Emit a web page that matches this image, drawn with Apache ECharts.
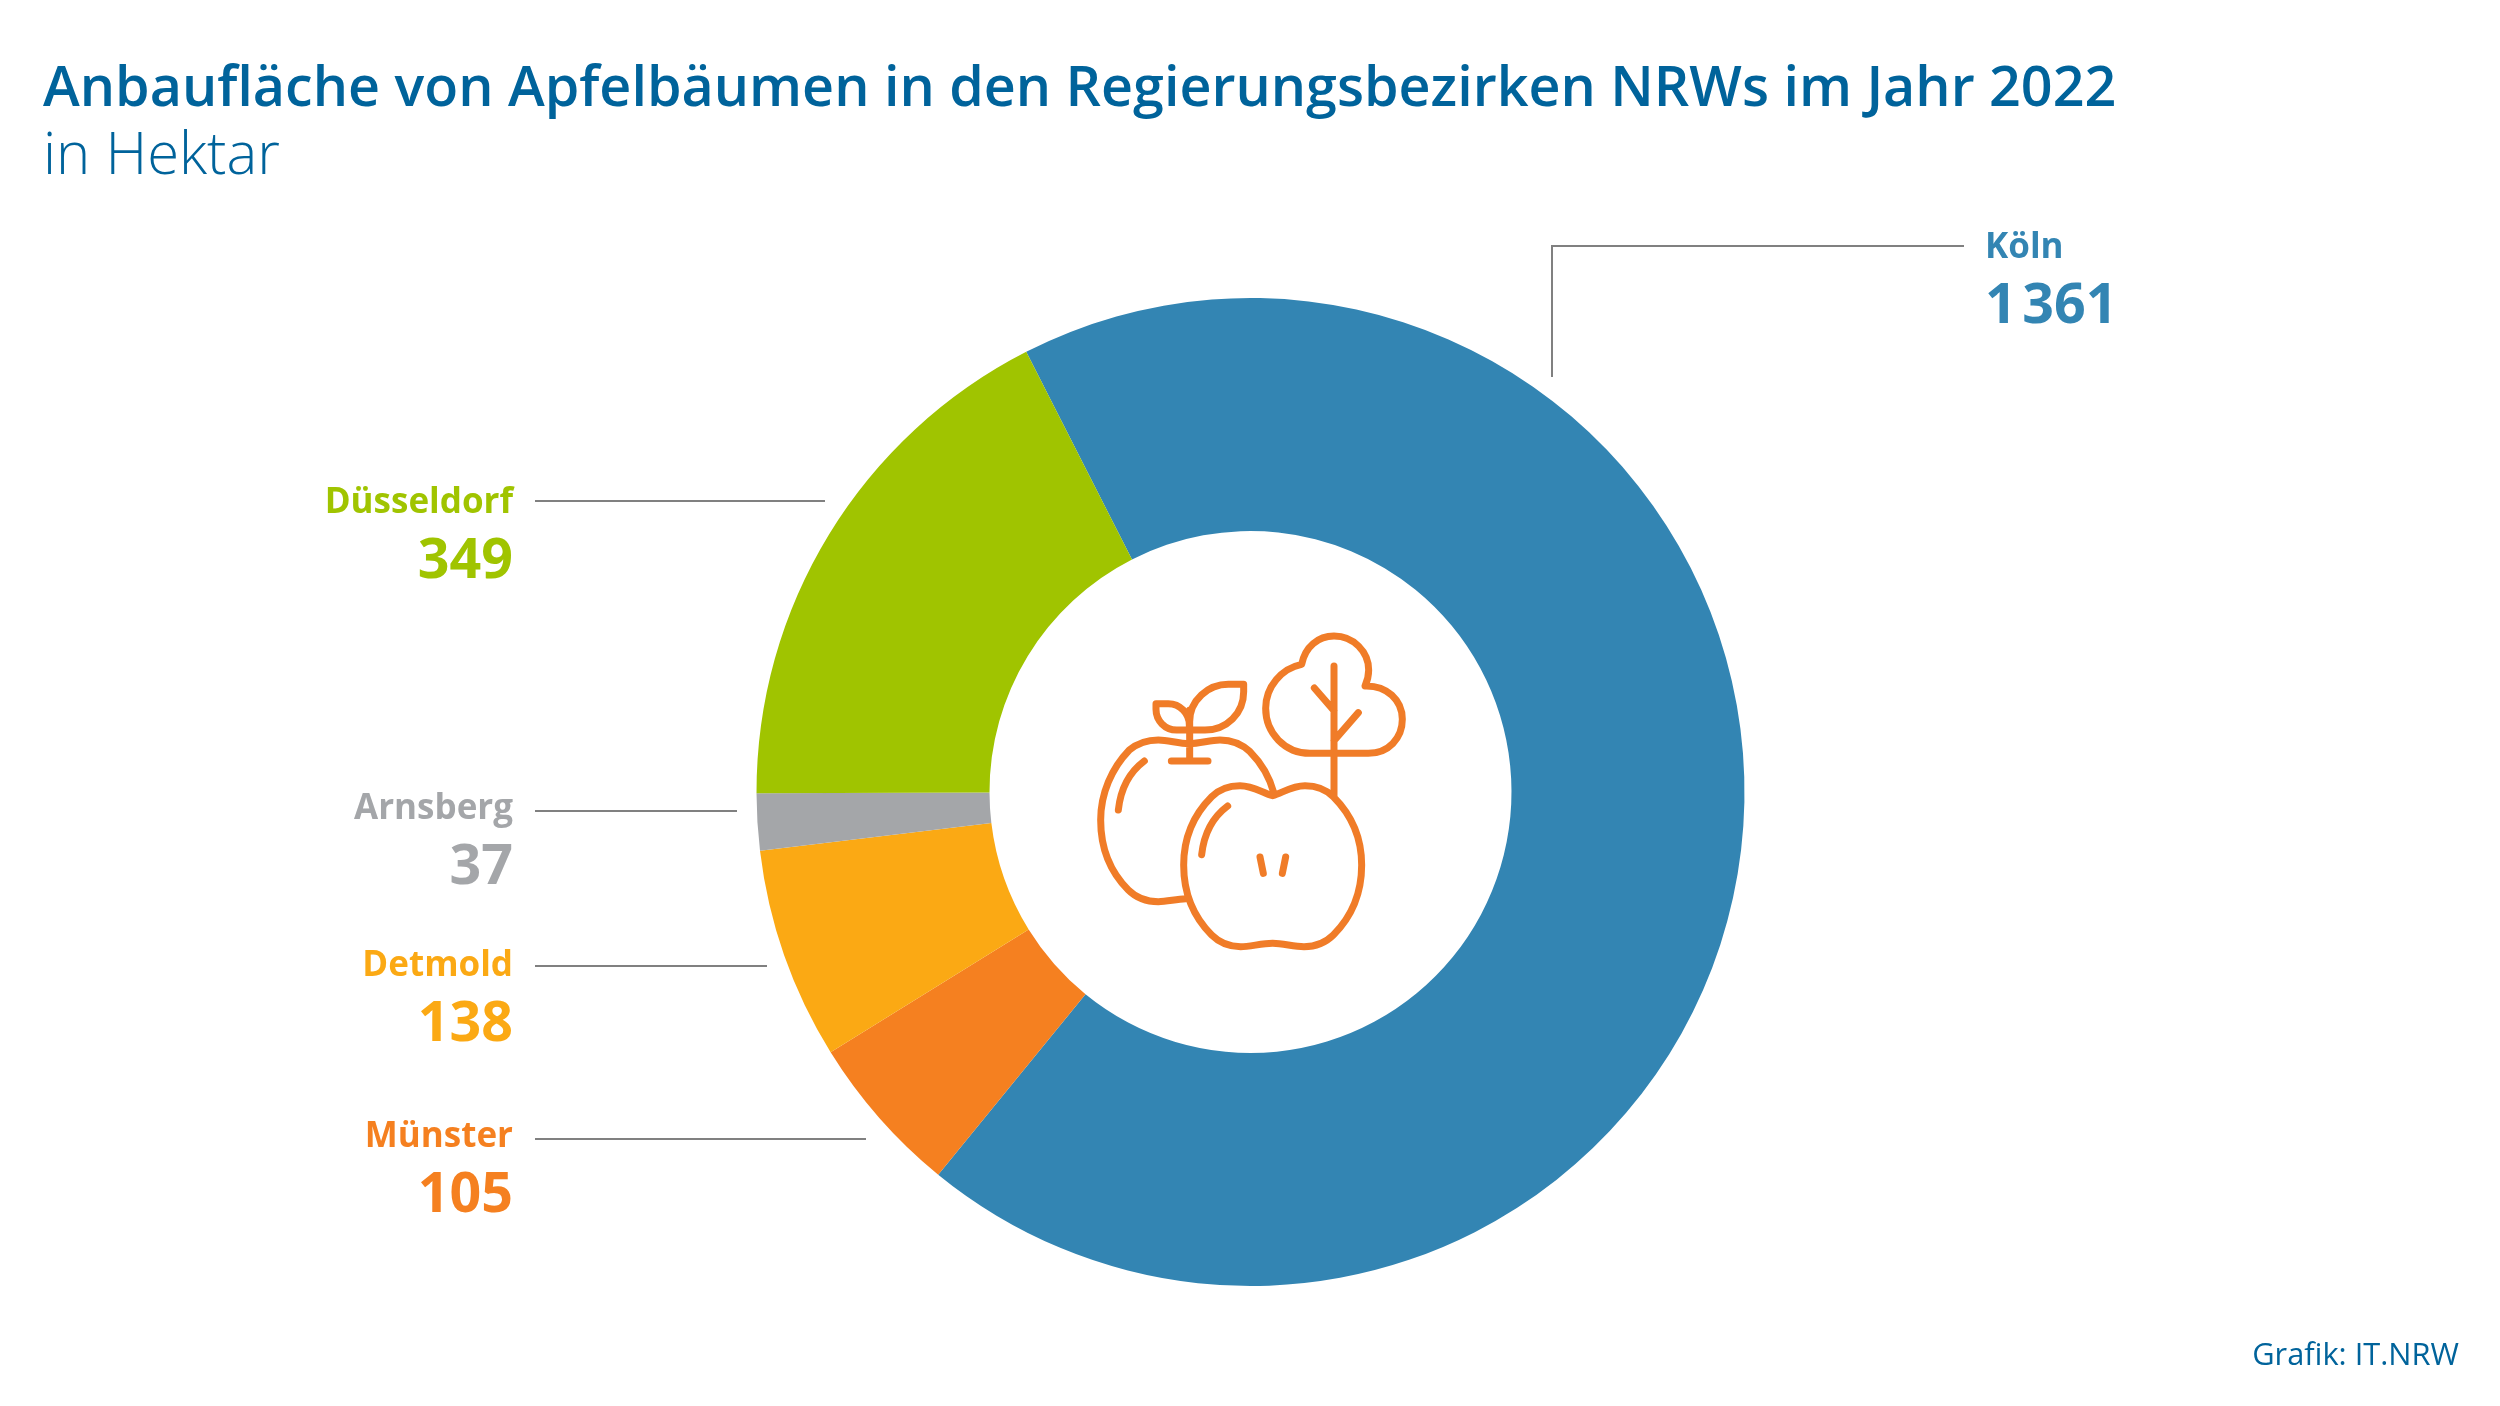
<!DOCTYPE html>
<html lang="de"><head><meta charset="utf-8">
<style>html,body{margin:0;padding:0;background:#fff}#c{width:2500px;height:1406px}</style>
<script src="https://cdn.jsdelivr.net/npm/echarts@6/dist/echarts.min.js"></script></head>
<body><div id="c"></div>
<script>
const titleText = 'Anbaufläche von Apfelbäumen in den Regierungsbezirken NRWs im Jahr 2022';
const subtitleText = 'in Hektar';
const sourceText = 'Grafik: IT.NRW';
const regions = ['Köln', 'Münster', 'Detmold', 'Arnsberg', 'Düsseldorf'];
const hectares = [1361, 105, 138, 37, 349];
const regionColors = ['#3385B3', '#F58020', '#FBA914', '#A4A6A9', '#A0C400'];

const FONT = '"Open Sans"';
const BLUE = '#00639B';
// label anchor (x, vertical middle of the block), and leader line per region
const labelPlacement = {
  'Köln':       {x: 1985, y: 278,  align: 'left',  line: [[1964, 246], [1552, 246], [1552, 377]]},
  'Münster':    {x: 513,  y: 1167, align: 'right', line: [[535, 1139], [866, 1139]]},
  'Detmold':    {x: 513,  y: 996,  align: 'right', line: [[535, 966],  [767, 966]]},
  'Arnsberg':   {x: 513,  y: 839,  align: 'right', line: [[535, 811],  [737, 811]]},
  'Düsseldorf': {x: 513,  y: 533,  align: 'right', line: [[535, 501],  [825, 501]]}
};
const iconPath =
  'M408 896C375 898 350 905 325 905C285 905 255 890 235 870C180 815 152 745 152 660C152 580 185 505 238 450C265 428 295 420 325 420C355 420 385 431 418 431C450 431 480 420 510 420C545 420 575 432 600 455C635 490 660 535 672 580' +
  'M205 630C212 565 240 515 283 483M419 330L419 480M364 483L474 483' +
  'M318 311L355 311C390 311 418 340 418 375L418 390L380 390C345 390 318 362 318 328Z' +
  'M419 365C419 300 475 253 535 253L581 253L581 275C581 340 530 390 465 390L419 390' +
  'M668 587C640 580 610 557 570 557C540 557 510 565 485 590C430 645 401 715 401 795C401 880 430 950 485 1005C510 1030 540 1040 572 1040C600 1040 635 1030 668 1030C700 1030 730 1040 762 1040C795 1040 825 1030 850 1005C905 950 935 880 935 795C935 715 905 645 850 590C825 565 795 557 765 557C725 557 695 580 668 587Z' +
  'M455 764C462 700 490 650 533 618M630 771L640 820M707 771L697 820' +
  'M852 198L852 590M793 264L852 332M925 338L852 422' +
  'M780 460L955 460C1015 460 1057 415 1057 358C1057 300 1010 256 945 258C952 243 956 228 956 210C956 155 910 108 852 108C805 108 765 140 755 193C695 205 647 260 647 325C647 400 705 460 780 460Z';
echarts.graphic.registerShape('appleIcon', echarts.graphic.extendPath(iconPath, {}));

const fmt = v => String(v).replace(/\B(?=(\d{3})+$)/g, '\u200A');
const chart = echarts.init(document.getElementById('c'), null, {renderer: 'canvas'});
chart.setOption({
  backgroundColor: '#fff',
  animation: false,
  title: [
    {text: titleText, left: 38, top: 57, textStyle: {fontFamily: FONT, fontWeight: 600, fontSize: 55.6, color: BLUE}},
    {text: subtitleText, left: 38, top: 123, textStyle: {fontFamily: FONT, fontWeight: 300, fontSize: 58, color: BLUE}},
    {text: sourceText, right: 36, top: 1336, textStyle: {fontFamily: FONT, fontWeight: 400, fontSize: 30.8, color: BLUE}}
  ],
  series: [{
    type: 'pie',
    silent: true,
    center: [1250.5, 792],
    radius: [261, 494],
    startAngle: 117,
    clockwise: true,
    data: regions.map((name, i) => ({name, value: hectares[i], itemStyle: {color: regionColors[i]}})),
    label: {
      show: true,
      position: 'outside',
      color: 'inherit',
      formatter: p => '{n|' + p.name + '}\n{v|' + fmt(p.value) + '}',
      rich: {
        n: {fontFamily: FONT, fontWeight: 700, fontSize: 35, lineHeight: 58},
        v: {fontFamily: FONT, fontWeight: 700, fontSize: 55.5, lineHeight: 60}
      }
    },
    labelLine: {show: true, lineStyle: {color: '#808080', width: 2}},
    labelLayout: function (p) {
      const l = labelPlacement[regions[p.dataIndex]];
      return {x: l.x, y: l.y, align: l.align, verticalAlign: 'middle', labelLinePoints: l.line};
    }
  }],
  graphic: [{
    type: 'appleIcon', silent: true, x: 1050, y: 600, scaleX: 1 / 3, scaleY: 1 / 3,
    style: {fill: 'none', stroke: '#F07C28', lineWidth: 21, lineCap: 'round', lineJoin: 'round'}
  }]
});
</script></body></html>
